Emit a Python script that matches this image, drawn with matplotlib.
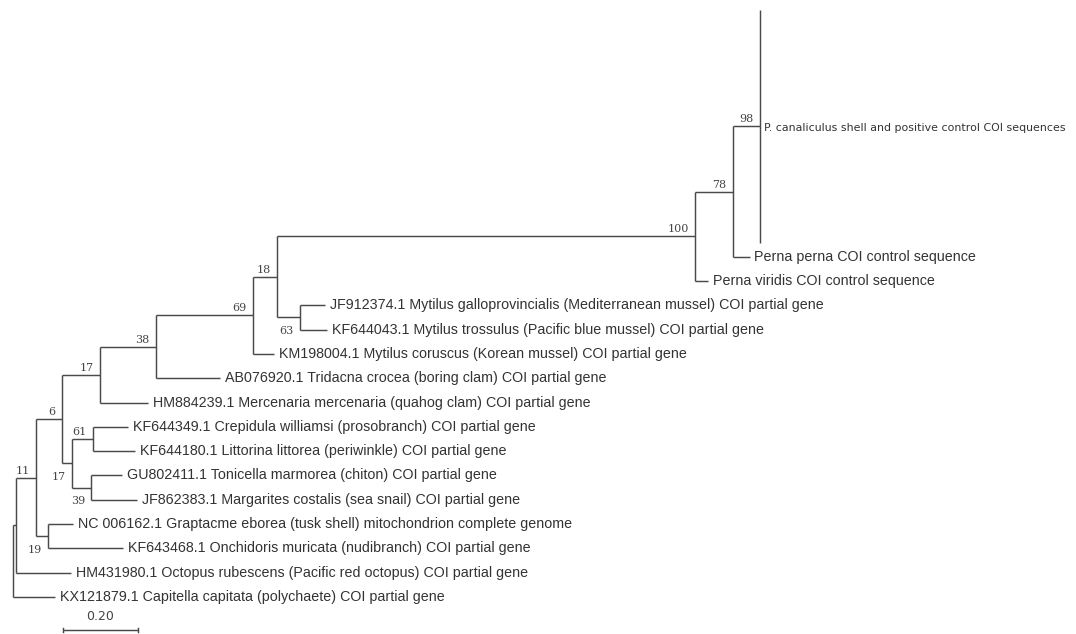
import matplotlib
matplotlib.use("Agg")
import matplotlib.pyplot as plt

# ---------------- data ----------------
# internal nodes (name, parent, branch length, bootstrap support)
node_names = ["root", "A", "n11", "n6", "n17u", "n38", "n69", "n18", "n100",
              "n78", "n98", "n63", "n17l", "n61", "n39", "n19"]
node_parent = [None, "root", "A", "n11", "n6", "n17u", "n38", "n69", "n18",
               "n100", "n78", "n18", "n6", "n17l", "n17l", "n11"]
node_length = [0.0, 0.008, 0.053, 0.069, 0.101, 0.149, 0.259, 0.064, 1.115,
               0.101, 0.072, 0.061, 0.027, 0.056, 0.051, 0.032]
node_support = [None, None, 11, 6, 17, 38, 69, 18, 100,
                78, 98, 63, 17, 61, 39, 19]

# leaves, top to bottom
leaf_labels = [
    "P. canaliculus shell and positive control COI sequences",
    "Perna perna COI control sequence",
    "Perna viridis COI control sequence",
    "JF912374.1 Mytilus galloprovincialis (Mediterranean mussel) COI partial gene",
    "KF644043.1 Mytilus trossulus (Pacific blue mussel) COI partial gene",
    "KM198004.1 Mytilus coruscus (Korean mussel) COI partial gene",
    "AB076920.1 Tridacna crocea (boring clam) COI partial gene",
    "HM884239.1 Mercenaria mercenaria (quahog clam) COI partial gene",
    "KF644349.1 Crepidula williamsi (prosobranch) COI partial gene",
    "KF644180.1 Littorina littorea (periwinkle) COI partial gene",
    "GU802411.1 Tonicella marmorea (chiton) COI partial gene",
    "JF862383.1 Margarites costalis (sea snail) COI partial gene",
    "NC 006162.1 Graptacme eborea (tusk shell) mitochondrion complete genome",
    "KF643468.1 Onchidoris muricata (nudibranch) COI partial gene",
    "HM431980.1 Octopus rubescens (Pacific red octopus) COI partial gene",
    "KX121879.1 Capitella capitata (polychaete) COI partial gene",
]
leaf_parent = ["n98", "n78", "n100", "n63", "n63", "n69", "n38", "n17u",
               "n61", "n61", "n39", "n39", "n19", "n19", "A", "root"]
leaf_length = [0.0, 0.045, 0.035, 0.067, 0.072, 0.056, 0.171, 0.128,
               0.093, 0.112, 0.083, 0.123, 0.067, 0.200, 0.147, 0.112]

scale_value = 0.20
scale_label = "0.20"

# ---------------- layout ----------------
PX_X = 375.0    # pixels per substitution unit
PX_Y = 24.3     # pixels per row
X0_PX, Y0_PX = 13.0, 13.7
W, H = 1076, 634
collapsed_span = (-0.15, 9.43)   # rows covered by the collapsed clade (first leaf)

LINE_C = "#4a4a4a"
TEXT_C = "#333333"
LW = 1.05

fig = plt.figure(figsize=(W / 100, H / 100), dpi=100)
ax = fig.add_axes([0, 0, 1, 1])
ax.set_xlim(-X0_PX / PX_X, (W - X0_PX) / PX_X)
ax.set_ylim((H - Y0_PX) / PX_Y, -Y0_PX / PX_Y)
ax.axis("off")

def dx(px):
    return px / PX_X

def dy(px):
    return px / PX_Y

# leaf extents
leaf_ext = []
row = 10
for i in range(len(leaf_labels)):
    if i == 0:
        leaf_ext.append(collapsed_span)
    else:
        leaf_ext.append((row, row))
        row += 1

# x positions of nodes
node_x = {}
idx = {n: i for i, n in enumerate(node_names)}
def get_x(n):
    if n in node_x:
        return node_x[n]
    i = idx[n]
    p = node_parent[i]
    node_x[n] = node_length[i] + (get_x(p) if p else 0.0)
    return node_x[n]
for n in node_names:
    get_x(n)

# y positions of nodes
node_y = {}
node_vspan = {}
def get_y(n):
    if n in node_y:
        return node_y[n]
    vals = []
    for j, p in enumerate(node_parent):
        if p == n:
            vals.append(get_y(node_names[j]))
    for j, p in enumerate(leaf_parent):
        if p == n:
            vals.extend(leaf_ext[j])
    lo, hi = min(vals), max(vals)
    node_vspan[n] = (lo, hi)
    node_y[n] = (lo + hi) / 2
    return node_y[n]
for n in node_names:
    get_y(n)

# draw vertical lines
for n in node_names:
    lo, hi = node_vspan[n]
    ax.plot([node_x[n], node_x[n]], [lo, hi], color=LINE_C, lw=LW,
            solid_capstyle="butt")

# horizontal branches to internal nodes
for i, n in enumerate(node_names):
    p = node_parent[i]
    if p is None:
        continue
    ax.plot([node_x[p], node_x[n]], [node_y[n], node_y[n]], color=LINE_C,
            lw=LW, solid_capstyle="butt")

# leaves
for j, lab in enumerate(leaf_labels):
    p = leaf_parent[j]
    px = node_x[p]
    tip = px + leaf_length[j]
    y = (leaf_ext[j][0] + leaf_ext[j][1]) / 2
    if leaf_length[j] > 0:
        ax.plot([px, tip], [y, y], color=LINE_C, lw=LW, solid_capstyle="butt")
    if j == 0:
        ax.text(tip + dx(4), y + dy(1.5), lab, fontsize=7.9, family="DejaVu Sans",
                color=TEXT_C, va="center", ha="left")
    else:
        ax.text(tip + dx(5), y, lab, fontsize=10.3, family="Liberation Sans",
                color=TEXT_C, va="center", ha="left")

# bootstrap values
for i, n in enumerate(node_names):
    s = node_support[i]
    if s is None:
        continue
    p = node_parent[i]
    # determine if this node is the upper or lower child of its parent
    sib_y = []
    for j, q in enumerate(node_parent):
        if q == p and node_names[j] != n:
            sib_y.append(node_y[node_names[j]])
    for j, q in enumerate(leaf_parent):
        if q == p:
            sib_y.append(sum(leaf_ext[j]) / 2)
    upper = all(node_y[n] < v for v in sib_y)
    if upper:
        ty = node_y[n] - dy(4)
    else:
        ty = node_y[n] + dy(16.5)
    ax.text(node_x[n] - dx(6), ty, str(s), fontsize=8, family="DejaVu Serif",
            color="#444444", ha="right", va="baseline")

# scale bar
sx0 = dx(63 - X0_PX)
sy = (630 - Y0_PX) / PX_Y
ax.plot([sx0, sx0 + scale_value], [sy, sy], color=LINE_C, lw=LW,
        solid_capstyle="butt")
for xx in (sx0, sx0 + scale_value):
    ax.plot([xx, xx], [sy - dy(2.5), sy + dy(2.5)], color=LINE_C, lw=LW)
ax.text(sx0 + scale_value / 2, (617 - Y0_PX) / PX_Y, scale_label,
        fontsize=9, family="Liberation Sans Narrow", color="#444444",
        ha="center", va="center")

fig.savefig("out.png", dpi=100)
